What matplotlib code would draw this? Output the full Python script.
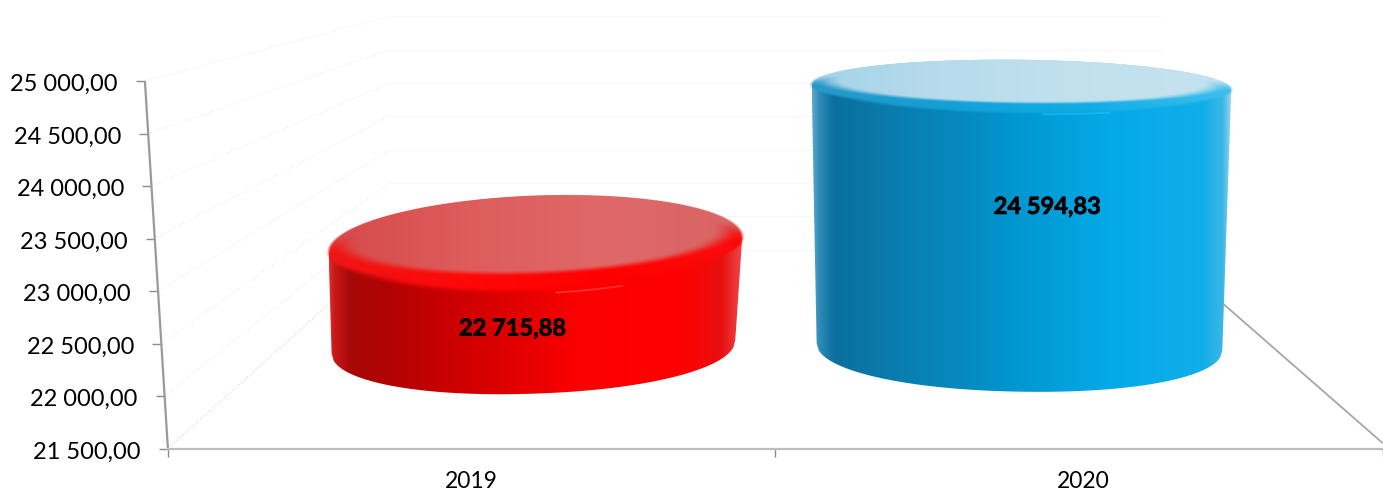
import numpy as np
import matplotlib
matplotlib.use("Agg")
import matplotlib.pyplot as plt
import matplotlib.patheffects as pe
from matplotlib.colors import LinearSegmentedColormap
from matplotlib.patches import Polygon
from matplotlib.transforms import ScaledTranslation

plt.rcParams['font.family'] = ['Lato', 'DejaVu Sans']

# ---- data ----
categories = ['2019', '2020']
values = [22715.88, 24594.83]
value_labels = ['22 715,88', '24 594,83']
y_ticks = [21500, 22000, 22500, 23000, 23500, 24000, 24500, 25000]
y_tick_labels = ['21 500,00', '22 000,00', '22 500,00', '23 000,00',
                 '23 500,00', '24 000,00', '24 500,00', '25 000,00']

# ---- scene geometry (pixels of the 1383x492 canvas) ----
W, H = 1383, 492
X0, UNIT = 168.0, 608.0
Y_BASE, PX = 448.5, (448.5 - 81) / 3500
V0 = y_ticks[0]
BACK_S, BACK_LIFT = 0.635, 1893.0
CYL_S, CYL_LIFT = 0.80, 970.0
CYL_SHIFT = 3.0
LABEL_SHIFT = 4.5
SLANT = 23 / UNIT / 3500

fig = plt.figure(figsize=(W / 100, H / 100), dpi=100, facecolor='white')
ax = fig.add_axes([0, 0, 1, 1])
ax.set_xlim(-X0 / UNIT, (W - X0) / UNIT)
ax.set_ylim(V0 - (H - Y_BASE) / PX, V0 + Y_BASE / PX)
ax.set_autoscale_on(False)
ax.patch.set_alpha(0)
for s in ('left', 'right', 'top'):
    ax.spines[s].set_visible(False)


def dx(px):
    return px / UNIT


def dy(px):
    return px / PX


def depth(u, v, s, lift):
    return 1 + (u - 1) * s, V0 + lift + (v - V0) * s


def axis_x(v):
    return -SLANT * (np.asarray(v) - V0)


# ---- walls and floor ----
for v in y_ticks:
    bx, by = depth(0, v, BACK_S, BACK_LIFT)
    col = '#e9e9e9' if v > V0 else '#d6d6d6'
    ax.plot([axis_x(v), bx], [v, by], color=col, lw=0.8, ls=(0, (1, 1.6)), zorder=1)
    rx, _ = depth(2, v, BACK_S, BACK_LIFT)
    ax.plot([bx, rx], [by, by], color='#f6f6f6', lw=0.8, zorder=1)
bx2, by2 = depth(2, V0, BACK_S, BACK_LIFT)
ax.plot([(W - X0) / UNIT, bx2], [V0 + dy(6), by2], color='#a6a6a6', lw=1.3, zorder=1)

# slanted value axis
ax.plot(axis_x(np.array([V0, y_ticks[-1]])), [V0, y_ticks[-1]], color='#9a9a9a',
        lw=1.6, solid_capstyle='butt', zorder=2)

# ---- axes ticks ----
ax.spines['bottom'].set_position(('data', V0))
ax.spines['bottom'].set_bounds(0, 2)
ax.spines['bottom'].set_color('#bdbdbd')
ax.spines['bottom'].set_linewidth(1.6)
ax.set_xticks([0.5, 1.5], categories)
ax.set_xticks([0, 1, 2], minor=True)
ax.tick_params(axis='x', which='major', length=0, pad=16, labelsize=16.5, labelcolor='black')
ax.tick_params(axis='x', which='minor', length=6, width=1.0, color='#8c8c8c')
xl = ax.xaxis.get_major_ticks()[1].label1
xl.set_transform(xl.get_transform() + ScaledTranslation(3 / 72, 0, fig.dpi_scale_trans))

ax.set_yticks(y_ticks, y_tick_labels)
ax.tick_params(axis='y', which='major', length=6.5, width=1.0, color='#8c8c8c',
               pad=0, labelsize=17, labelcolor='black')
x_span = ax.get_xlim()[1] - ax.get_xlim()[0]
for t, v in zip(ax.yaxis.get_major_ticks(), y_ticks):
    frac = (axis_x(v) - ax.get_xlim()[0]) / x_span
    t.tick1line.set_xdata([frac])
    t.label1.set_x(frac - 18 / W)
    t.label1.set_horizontalalignment('right')
    t.label1.set_verticalalignment('center')
    t.label1.set_transform(t.label1.get_transform()
                           + ScaledTranslation(0, -2.6 / 72, fig.dpi_scale_trans))

# ---- cylinder styles ----
styles = [
    dict(top_a=207, base_a=202, base_dx=-2, top_b=49, base_b=47, top_shear=15 / 413, base_shear=13 / 400,
         side=[(0, '#d83030'), (0.012, '#c81818'), (0.05, '#a80808'), (0.13, '#b00404'), (0.28, '#c80000'),
               (0.45, '#e20000'), (0.6, '#fb0000'), (0.85, '#ff0000'), (0.95, '#e81010'), (1, '#f04848')],
         rim=['#f01616', '#ff0808', '#ff0000', '#fa0c0c'],
         face=['#d64a4a', '#de5c5c', '#e06868', '#d86464'], glint='#ff5858'),
    dict(top_a=210, base_a=203, base_dx=-2, top_b=27.5, base_b=45, top_shear=-5 / 419, base_shear=-7 / 400,
         side=[(0, '#5aa8cc'), (0.015, '#2f8db8'), (0.05, '#0b6f9f'), (0.17, '#0a7aab'), (0.35, '#0689bf'),
               (0.5, '#0198d2'), (0.7, '#04a9e6'), (0.93, '#10aeea'), (0.98, '#3cb6e6'), (1, '#9ad6ee')],
         rim=['#2898c6', '#14a0d8', '#10aee6', '#40c0ee'],
         face=['#a4d3e8', '#b8dcec', '#c2e1ee', '#c4e2ee'], glint='#20c8f8'),
]


def gradient(ax, stops, extent, clip, zorder):
    cmap = LinearSegmentedColormap.from_list('g', stops)
    im = ax.imshow(np.linspace(0, 1, 512)[None, :], cmap=cmap, extent=extent, aspect='auto',
                   interpolation='bilinear', vmin=0, vmax=1, zorder=zorder)
    clip.set_transform(ax.transData)
    im.set_clip_path(clip)
    return im


def smooth(e0, e1, x):
    t = np.clip((x - e0) / (e1 - e0), 0, 1)
    return t * t * (3 - 2 * t)


def ramp(stops, n):
    cmap = LinearSegmentedColormap.from_list('r', stops)
    return cmap(np.linspace(0, 1, n))[:, :3]


for i, (cat_u, val) in enumerate(zip([0.5, 1.5], values)):
    st = styles[i]
    z = 5 + i
    cu, base_v = depth(cat_u, V0, CYL_S, CYL_LIFT)
    cu += dx(CYL_SHIFT)
    _, top_v = depth(cat_u, val, CYL_S, CYL_LIFT)
    a, ab = st['top_a'], st['base_a']
    b, bb = st['top_b'], st['base_b']
    sh = st['top_shear']
    bcu = cu + dx(st['base_dx'])
    # body: silhouette from the top rim down to the lower half of the base ellipse
    t = np.linspace(1, -1, 200)
    lower = np.c_[bcu + dx(ab * t),
                  base_v + dy(-bb * (1 - np.abs(t) ** 2.1) ** (1 / 2.1) + st['base_shear'] * ab * t)]
    body = np.vstack([[cu - dx(a), top_v - dy(sh * a)],
                      [cu + dx(a), top_v + dy(sh * a)],
                      lower])
    ext = (cu - dx(a), cu + dx(a), base_v - dy(bb + 12), top_v + dy(b + 4))
    gradient(ax, st['side'], ext, Polygon(body, closed=True), z)

    # rim and flat top as one soft-edged picture, in pixels around the top centre
    pad = 6
    xs = np.arange(-a - pad, a + pad + 1, 1.0)
    ys = np.arange(b + pad, -b - pad - 1, -1.0)
    xg, yg = np.meshgrid(xs, ys)
    yr = yg - sh * xg
    r_out = np.sqrt((xg / a) ** 2 + (yr / b) ** 2)
    ib = b * 0.8
    r_in = np.sqrt((xg / (a - 6)) ** 2 + ((yr - (b - ib)) / ib) ** 2)
    frac_x = np.clip((xg + a) / (2 * a), 0, 1)
    idx = (frac_x * 255).astype(int)
    rim_c = ramp(st['rim'], 256)[idx]
    face_c = ramp(st['face'], 256)[idx]
    # the rim fades softly into the side below, and sharply against the wall above
    lower_half = smooth(0.15, 0.6, -yr / b)
    rim_alpha = 1 - smooth(1.0 - 0.12 * lower_half - 0.012, 1.0 + 0.012, r_out)
    upper = smooth(-0.05, 0.35, yr / b)
    face_mix = np.maximum(1 - smooth(0.88, 1.05, r_in), upper)
    rgb = rim_c * (1 - face_mix[..., None]) + face_c * face_mix[..., None]
    rgba = np.dstack([rgb, rim_alpha])
    ax.imshow(rgba, extent=(cu + dx(xs[0] - 0.5), cu + dx(xs[-1] + 0.5),
                            top_v + dy(ys[-1] - 0.5), top_v + dy(ys[0] + 0.5)),
              aspect='auto', interpolation='bilinear', zorder=z + 0.1)

    # glint on the lower edge of the rim
    g = np.linspace(0.1, 0.42, 40)
    ax.plot(cu + dx(a * g), top_v + dy(-b * np.sqrt(1 - g ** 2) + sh * a * g),
            color=st['glint'], lw=1.3, alpha=0.55, solid_capstyle='round', zorder=z + 0.4)

# ---- value labels ----
for cat_u, val, lab in zip([0.5, 1.5], values, value_labels):
    lx = 1 + (cat_u - 1) * 0.88 + dx(LABEL_SHIFT)
    ly = 21896 + 0.617 * (val - V0)
    ax.text(lx, ly, lab, ha='center', va='center', fontsize=17, fontweight='bold',
            color='black', zorder=10,
            path_effects=[pe.withStroke(linewidth=0.5, foreground='black')])

fig.savefig('out.png', dpi=100, facecolor='white')
